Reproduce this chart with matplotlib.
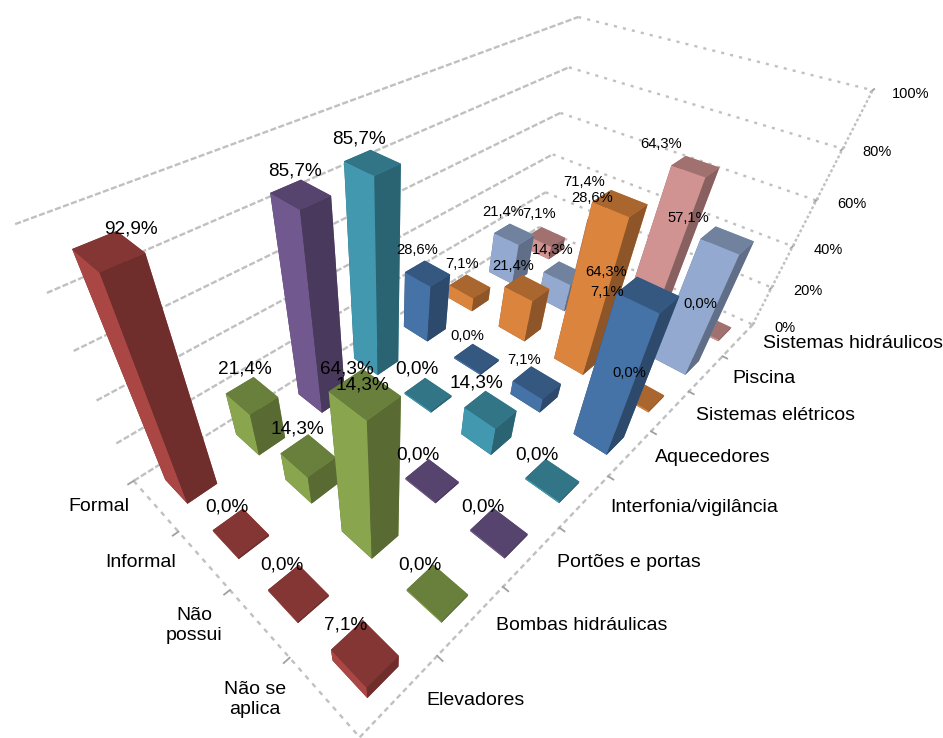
import numpy as np
import matplotlib
matplotlib.use("Agg")
import matplotlib.pyplot as plt
from mpl_toolkits.mplot3d import Axes3D  # noqa

plt.rcParams["font.family"] = ["Liberation Sans", "DejaVu Sans"]

W, H = 943, 738

rows = ["Formal", "Informal", "Não\npossui", "Não se\naplica"]
series = ["Elevadores", "Bombas hidráulicas", "Portões e portas", "Interfonia/vigilância",
          "Aquecedores", "Sistemas elétricos", "Piscina", "Sistemas hidráulicos"]
elevadores = [92.9, 0.0, 0.0, 7.1]
bombas = [21.4, 14.3, 64.3, 0.0]
portoes = [85.7, 14.3, 0.0, 0.0]
interfonia = [85.7, 0.0, 14.3, 0.0]
aquecedores = [28.6, 0.0, 7.1, 64.3]
eletricos = [7.1, 21.4, 71.4, 0.0]
piscina = [21.4, 14.3, 7.1, 57.1]
hidraulicos = [7.1, 28.6, 64.3, 0.0]
values = [elevadores, bombas, portoes, interfonia, aquecedores, eletricos, piscina, hidraulicos]
colors = ["#AA4643", "#89A54E", "#71588F", "#4198AF", "#4572A7", "#DB843D", "#93A9CF", "#D19392"]
z_ticks = [0, 20, 40, 60, 80, 100]

# camera: floor/wall corners of the reference, (row, series, percent) -> pixel
cam_world = [(0, 0, 0), (1, 0, 0), (2, 0, 0), (3, 0, 0), (4, 0, 0), (4, 1, 0), (4, 7, 0), (4, 8, 0), (0, 8, 0),
             (4, 8, 20), (4, 8, 40), (4, 8, 60), (4, 8, 80), (4, 8, 100),
             (0, 0, 20), (0, 0, 40), (0, 0, 60), (0, 0, 80), (0, 0, 100),
             (0, 8, 20), (0, 8, 40), (0, 8, 60), (0, 8, 100)]
cam_pixel = [(132, 478), (178, 530), (228, 588), (290, 658), (360, 738), (440, 658), (725, 357), (753, 325), (535, 228),
             (772, 287), (792, 247), (815, 199), (840, 148), (872, 90),
             (118, 443), (97, 400), (73, 352), (48, 295), (13, 227),
             (545, 193), (555, 155), (565, 113), (578, 15)]

# where the text sits, in pixels from the top left
row_pos = [(99, 505), (141, 561), (194, 624), (255, 698)]
series_pos = [(475, 699), (582, 624), (629, 561), (694, 506), (713, 456), (776, 414), (764, 377), (853, 342)]
z_pos = [(785, 326), (808, 290), (828, 248), (852, 202), (877, 151), (911, 92)]
label_pos = [[(131, 227), (227, 506), (282, 563), (346, 623)],
             [(245, 368), (297, 427), (347, 367), (420, 563)],
             [(295, 170), (362, 383), (418, 453), (483, 506)],
             [(359, 138), (417, 368), (476, 382), (537, 453)],
             [(417, 249), (467, 335), (524, 358), (606, 271)],
             [(462, 262), (513, 264), (584, 180), (629, 371)],
             [(503, 210), (553, 249), (607, 291), (688, 216)],
             [(539, 212), (592, 196), (661, 143), (700, 303)]]


def fit_camera(world, pixel):
    # plain DLT, 3x4 projective matrix
    A = []
    for (x, y, z), (px, py) in zip(world, pixel):
        A.append([x, y, z, 1, 0, 0, 0, 0, -px * x, -px * y, -px * z, -px])
        A.append([0, 0, 0, 0, x, y, z, 1, -py * x, -py * y, -py * z, -py])
    P = np.linalg.svd(np.array(A, dtype=float))[2][-1].reshape(3, 4)
    if P[2, 3] < 0:
        P = -P
    # last row is w (distance), third row only has to keep depth sortable
    return np.vstack([P[0], P[1], [0, 0, 0, -1], P[2]])


def shade(col, k):
    return tuple(c * k for c in matplotlib.colors.to_rgb(col))


def put_text(x, y, s, **kw):
    # +1.5: va="center" counts the descender, the glyphs end up a bit high
    fig.text(x / W, 1 - (y + 1.5) / H, s, ha="center", va="center", **kw)


fig = plt.figure(figsize=(W / 100, H / 100), dpi=100)
ax = fig.add_axes([0, 0, 1, 1], projection="3d", computed_zorder=False)
ax.set_axis_off()
ax.set_xticks([])
ax.set_yticks([])
ax.set_zticks([])
ax.set_proj_type("ortho")  # only switches off the line clipping, the matrix is ours
M = fit_camera(cam_world, cam_pixel)
ax.get_proj = lambda: M
ax.apply_aspect = lambda position=None: None
ax.viewLim.intervalx = (0, W)
ax.viewLim.intervaly = (H, 0)

gray = "#c0c0c0"
for z in z_ticks:
    ax.plot([0, 0], [0, 8], [z, z], color=gray, lw=1.7, ls=(0, (2.6, 1.0)), zorder=1)
    ax.plot([0, 4], [8, 8], [z, z], color=gray, lw=1.7, ls=(0, (1.3, 2.6)), zorder=1)
    ax.plot([4, 4], [7.93, 8.05], [z, z], color="#a0a0a0", lw=1.3, zorder=1)
ax.plot([4, 4], [8, 8], [0, 100], color=gray, lw=1.7, ls=(0, (1.2, 1.0)), zorder=1)
ax.plot([0, 4], [0, 0], [0, 0], color=gray, lw=1.7, ls=(0, (2.0, 2.4)), zorder=1)
ax.plot([4, 4], [0, 8], [0, 0], color=gray, lw=1.7, ls=(0, (2.2, 1.6)), zorder=1)
for u in range(4):
    ax.plot([u, u], [-0.07, 0.0], [0, 0], color="#a0a0a0", lw=1.3, zorder=1)
for v in range(1, 8):
    ax.plot([4.0, 4.07], [v, v], [0, 0], color="#a0a0a0", lw=1.3, zorder=1)

du, dv = 0.49, 0.4
for r in range(4):
    for s in range(7, -1, -1):
        val = values[s][r]
        col = colors[s]
        # faces: -z, +z, -y, +y, -x, +x
        faces = [shade(col, .65), shade(col, .77), col, col, shade(col, .65), shade(col, .65)]
        ax.bar3d(r * 1.02 + .5 - du / 2, s + .47 - dv / 2, 0, du, dv, max(val, 0.8), color=faces, shade=False,
                 zorder=10 + r * 10 + (7 - s))
        x, y = label_pos[s][r]
        put_text(x, y, f"{val:.1f}%".replace(".", ","), fontsize=13.7 if s < 4 else 10.6)

for name, (x, y) in zip(rows, row_pos):
    put_text(x, y, name, fontsize=14, linespacing=1.3)
for name, (x, y) in zip(series, series_pos):
    put_text(x, y, name, fontsize=14)
for z, (x, y) in zip(z_ticks, z_pos):
    put_text(x, y, f"{z}%", fontsize=10.5)

fig.savefig("out.png", dpi=100)
